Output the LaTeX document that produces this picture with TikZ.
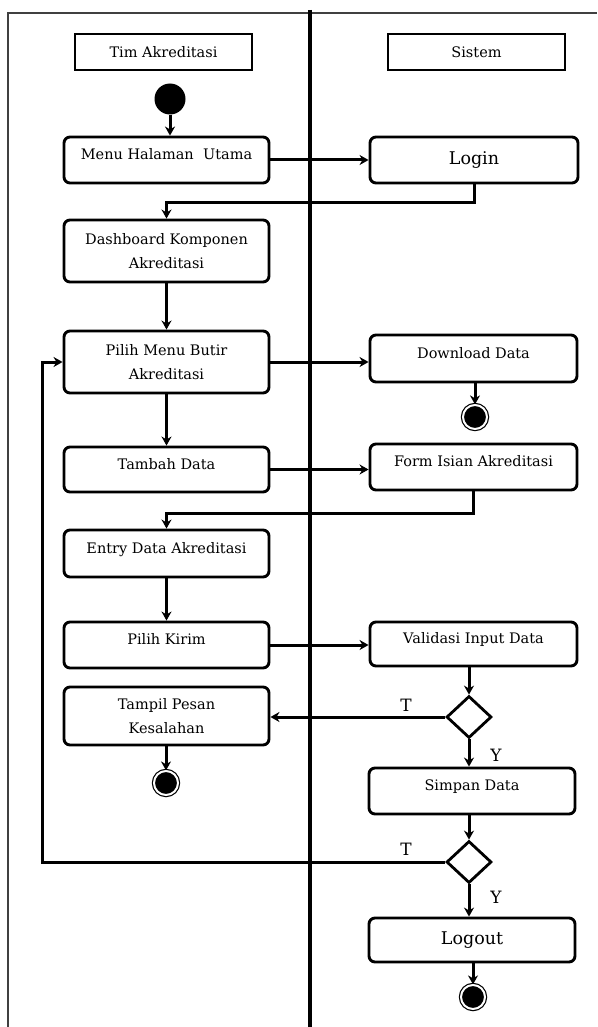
\documentclass[tikz,border=0pt]{standalone}
\usepackage{fontspec}
\setmainfont{DejaVu Serif}
\usetikzlibrary{shapes.geometric,arrows.meta}

\begin{document}
\begin{tikzpicture}[
        x=1pt, y=-1pt,
        >={Stealth[length=9pt,width=10pt]},
        flow/.style={draw, ->, line width=3pt},
        frame/.style={draw=black!75, line width=1.3pt},
        lane/.style={rectangle, draw, line width=1.5pt, minimum width=177pt, minimum height=36pt, font=\fontsize{14.5}{17}\selectfont},
        act/.style={rectangle, draw, rounded corners=6pt, line width=2.9pt, align=center, minimum width=205pt, minimum height=46pt, inner sep=2pt, font=\fontsize{14.5}{24}\selectfont},
        oneline/.style={text height=11pt, text depth=12pt},
        big/.style={font=\fontsize{17.5}{20}\selectfont},
        decision/.style={diamond, draw, line width=2.8pt, minimum width=45pt, minimum height=42pt, inner sep=0pt},
        startdot/.style={circle, fill=black, minimum size=31pt, inner sep=0pt},
        enddot/.style={circle, draw, fill=black, line width=1.2pt, double=white, double distance=2pt, minimum size=24pt, inner sep=0pt},
        lbl/.style={font=\fontsize{17}{20}\selectfont, inner sep=0pt}
    ]
        \useasboundingbox (0,0) rectangle (597,1027);
        \draw[frame] (8,1027) -- (8,13) -- (597,13);
        \draw[line width=3.2pt] (310,10) -- (310,1027);

        \node[lane] (timlane) at (163.5,52) {Tim Akreditasi};
        \node[lane] (syslane) at (476.5,52) {Sistem};

        \node[startdot] (start) at (170,99) {};
        \node[act, oneline] (menu) at (166.5,160) {Menu Halaman\ \ Utama};
        \node[act, big, minimum width=208pt] (login) at (474,160) {Login};
        \node[act, minimum height=62pt] (dash) at (166.5,251) {Dashboard Komponen\\Akreditasi};
        \node[act, minimum height=62pt] (butir) at (166.5,362) {Pilih Menu Butir\\Akreditasi};
        \node[act, oneline, minimum width=207pt, minimum height=47pt] (download) at (473.5,358.5) {Download Data};
        \node[enddot] (endA) at (475,417) {};
        \node[act, oneline, minimum height=45pt] (tambah) at (166.5,469.5) {Tambah Data};
        \node[act, oneline, minimum width=207pt] (form) at (473.5,467) {Form Isian Akreditasi};
        \node[act, oneline, minimum height=47pt] (entry) at (166.5,553.5) {Entry Data Akreditasi};
        \node[act, oneline] (kirim) at (166.5,645) {Pilih Kirim};
        \node[act, oneline, minimum width=207pt, minimum height=44pt] (validasi) at (473.5,644) {Validasi Input Data};
        \node[decision] (cekA) at (469,717) {};
        \node[act, minimum height=58pt] (pesan) at (166.5,716) {Tampil Pesan\\Kesalahan};
        \node[enddot] (endB) at (166,783) {};
        \node[act, oneline, minimum width=206pt] (simpan) at (472,791) {Simpan Data};
        \node[decision] (cekB) at (469,862) {};
        \node[act, big, minimum width=206pt, minimum height=44pt] (logout) at (472,940) {Logout};
        \node[enddot] (endC) at (473,997) {};

        \node[lbl] (tA) at (406,705) {T};
        \node[lbl] (yA) at (496,755) {Y};
        \node[lbl] (tB) at (406,849) {T};
        \node[lbl] (yB) at (496,897) {Y};
        \coordinate (back) at (42,0);

        \draw[flow] (start) -- (start |- menu.north);
        \draw[flow] (menu) -- (login);
        \draw[flow] (login.south) -- ++(0,18) -| (dash.north);
        \draw[flow] (dash) -- (butir);
        \draw[flow] (butir.east) -- (butir.east -| download.west);
        \draw[flow] (download.south -| endA) -- (endA);
        \draw[flow] (butir) -- (tambah);
        \draw[flow] (tambah.east) -- (tambah.east -| form.west);
        \draw[flow] (form.south) -- ++(0,22) -| (entry.north);
        \draw[flow] (entry) -- (kirim);
        \draw[flow] (kirim.east) -- (kirim.east -| validasi.west);
        \draw[flow] (validasi.south -| cekA) -- (cekA);
        \draw[flow] (cekA.west) -- (cekA.west -| pesan.east);
        \draw[flow] (pesan.south -| endB) -- (endB);
        \draw[flow] (cekA) -- (cekA |- simpan.north);
        \draw[flow] (simpan.south -| cekB) -- (cekB);
        \draw[flow] (cekB.west) -- (cekB.west -| back) |- (butir.west);
        \draw[flow] (cekB) -- (cekB |- logout.north);
        \draw[flow] (logout.south -| endC) -- (endC);
    \end{tikzpicture}
\end{document}
